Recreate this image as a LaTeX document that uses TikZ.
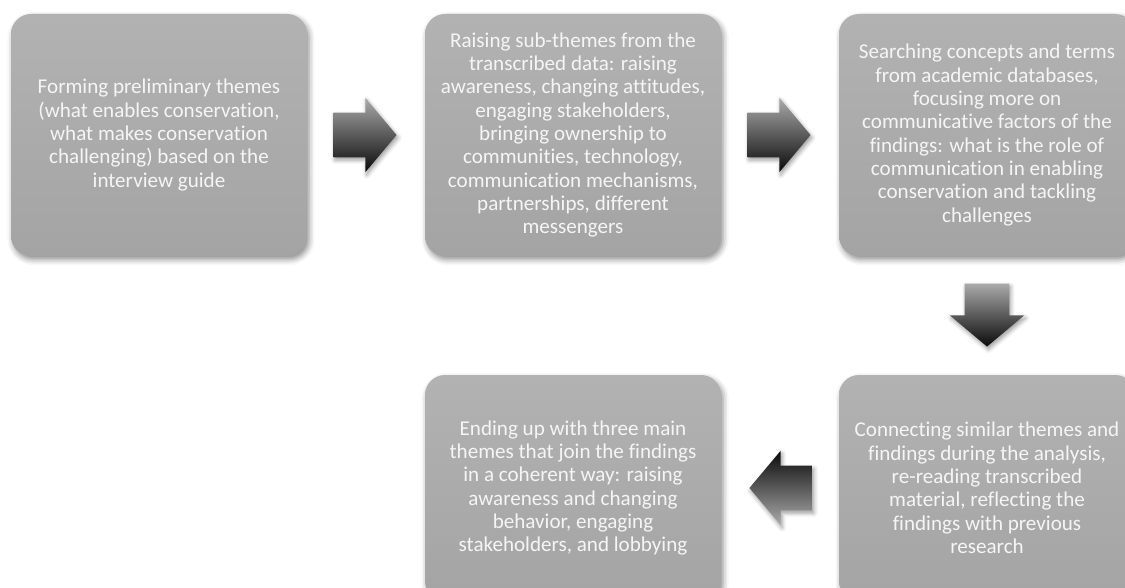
\documentclass[tikz,border=0pt]{standalone}
\usepackage{fontspec}
\setmainfont{Carlito}[Ligatures=NoCommon, RawFeature={-liga}]
\usepackage{tikz}
\usetikzlibrary{positioning,shapes.arrows,shadows.blur,calc}

\definecolor{boxtop}{HTML}{B2B2B2}
\definecolor{boxbot}{HTML}{A4A4A4}
\definecolor{arrowlight}{HTML}{AAAAAA}
\definecolor{arrowdark}{HTML}{0A0A0A}
\definecolor{boxtext}{HTML}{F5F5F5}

\begin{document}
\begin{tikzpicture}[node distance=10.35cm,
    phase/.style={rounded corners=0.5cm, top color=boxtop, bottom color=boxbot,
      minimum width=7.4cm, minimum height=6.05cm, text=boxtext, align=center,
      font=\fontsize{15}{16.6}\selectfont,
      blur shadow={shadow xshift=1.5pt, shadow yshift=-2.5pt, shadow blur radius=4pt, shadow opacity=45}},
    flow/.style={single arrow, single arrow head extend=0.375cm, single arrow tip angle=100,
      minimum width=1.85cm, minimum height=1.575cm, anchor=tail,
      blur shadow={shadow xshift=1pt, shadow yshift=-2pt, shadow blur radius=3pt, shadow opacity=40}},
    across/.style={flow, inner xsep=0pt, inner ysep=0.55cm},
    downward/.style={flow, inner xsep=0.55cm, inner ysep=0pt, shape border rotate=270},
    flowdown/.style={top color=arrowlight, bottom color=arrowdark},
    flowup/.style={top color=arrowdark, bottom color=arrowlight}]

    \useasboundingbox (0,0) rectangle (28.125,-14.7);

    \node[phase] (A) at (3.975,-3.375) {Forming preliminary themes\\(what enables conservation,\\what makes conservation\\challenging) based on the\\interview guide};
    \node[phase] (B) [right of=A] {Raising sub-themes from the\\transcribed data: raising\\awareness, changing attitudes,\\engaging stakeholders,\\bringing ownership to\\communities, technology,\\communication mechanisms,\\partnerships, different\\messengers};
    \node[phase] (C) [right of=B] {Searching concepts and terms\\from academic databases,\\focusing more on\\communicative factors of the\\findings: what is the role of\\communication in enabling\\conservation and tackling\\challenges};
    \node[phase, minimum height=5.65cm] (D) [below of=C, node distance=8.825cm] {Connecting similar themes and\\findings during the analysis,\\re-reading transcribed\\material, reflecting the\\findings with previous\\research};
    \node[phase, minimum height=5.65cm] (E) [left of=D] {Ending up with three main\\themes that join the findings\\in a coherent way: raising\\awareness and changing\\behavior, engaging\\stakeholders, and lobbying};

    \node[across, flowdown] (F) at ($(A.east)+(0.65,0)$) {};
    \node[across, flowdown] (G) at ($(B.east)+(0.65,0)$) {};
    \node[downward, flowdown] (H) at ($(C.south)+(0,-0.675)$) {};
    \node[across, flowup, shape border rotate=180] (I) at ($(D.west)+(-0.65,0)$) {};
\end{tikzpicture}
\end{document}
